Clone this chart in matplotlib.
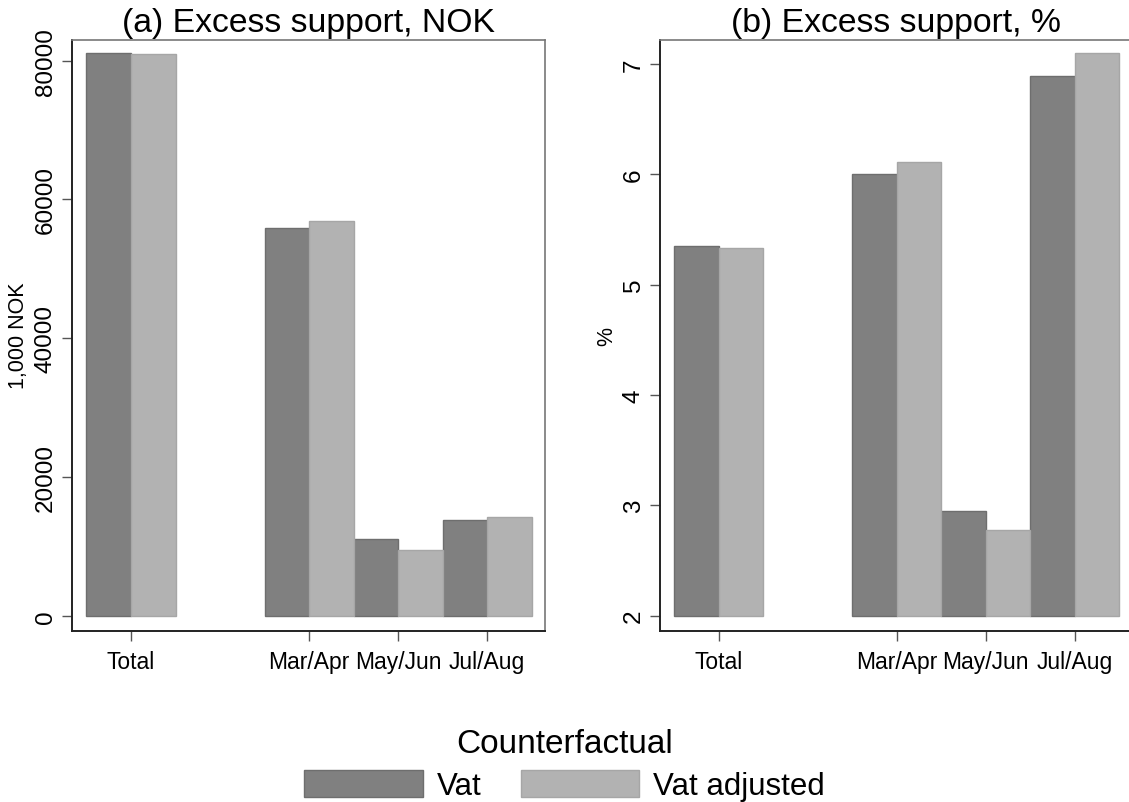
import numpy as np
import matplotlib
matplotlib.use("Agg")
import matplotlib.pyplot as plt
from matplotlib.patches import Patch

plt.rcParams['font.family'] = ['Liberation Sans', 'DejaVu Sans']

categories = ["Total", "Mar/Apr", "May/Jun", "Jul/Aug"]
positions = [0, 2, 3, 4]

# excess support in 1,000 NOK
nok_vat = [81100, 55900, 11100, 13800]
nok_adj = [80900, 56900, 9500, 14200]

# excess support in percent
pct_vat = [5.35, 6.00, 2.95, 6.89]
pct_adj = [5.33, 6.11, 2.78, 7.10]

dark, dark_edge = "#808080", "#6e6e6e"
light, light_edge = "#b2b2b2", "#a6a6a6"
w = 0.5

fig = plt.figure(figsize=(11.29, 8.03), dpi=100)
ax1 = fig.add_axes([0.0640, 0.2133, 0.4187, 0.7360])
ax2 = fig.add_axes([0.5846, 0.2133, 0.4187, 0.7360])

x = np.array(positions, dtype=float)


def draw(ax, vat, adj, base, yticks, ylim, title, ylabel):
    ax.bar(x - w / 2, np.array(vat) - base, w, bottom=base, color=dark,
           edgecolor=dark_edge, linewidth=1)
    ax.bar(x + w / 2, np.array(adj) - base, w, bottom=base, color=light,
           edgecolor=light_edge, linewidth=1)
    ax.set_xlim(-0.66, 4.65)
    ax.set_ylim(*ylim)
    ax.set_xticks(x)
    ax.set_xticklabels(categories, fontsize=16.5)
    ax.set_yticks(yticks)
    ax.tick_params(axis='y', labelrotation=90, labelsize=17.5, length=7,
                   width=1, color="#555555", pad=4)
    for lab in ax.get_yticklabels():
        lab.set_va("center")
    ax.tick_params(axis='x', length=7, width=1, color="#555555", pad=7)
    ax.set_title(title, fontsize=24.3, pad=6)
    ax.set_ylabel(ylabel, fontsize=15.5, labelpad=4)
    for s in ["left", "bottom"]:
        ax.spines[s].set_color("#222222")
        ax.spines[s].set_linewidth(1.4)
    for s in ["top", "right"]:
        ax.spines[s].set_color("#777777")
        ax.spines[s].set_linewidth(1.2)


draw(ax1, nok_vat, nok_adj, 0, [0, 20000, 40000, 60000, 80000],
     (-2160, 83030), "(a) Excess support, NOK", "1,000 NOK")
draw(ax2, pct_vat, pct_adj, 2, [2, 3, 4, 5, 6, 7],
     (1.864, 7.22), "(b) Excess support, %", "%")
# right panel runs past the edge of the figure
ax2.spines["right"].set_visible(False)

handles = [Patch(facecolor=dark, edgecolor=dark_edge, label="Vat"),
           Patch(facecolor=light, edgecolor=light_edge, label="Vat adjusted")]
leg = fig.legend(handles=handles, loc="upper center", bbox_to_anchor=(0.5, 0.112),
                 ncol=2, frameon=False, fontsize=22.5, title="Counterfactual",
                 title_fontsize=24, handlelength=3.8, handleheight=0.95,
                 handletextpad=0.45, columnspacing=1.25, borderpad=0,
                 labelspacing=0.2)
leg._legend_box.sep = 8

fig.savefig("out.png", dpi=100)
